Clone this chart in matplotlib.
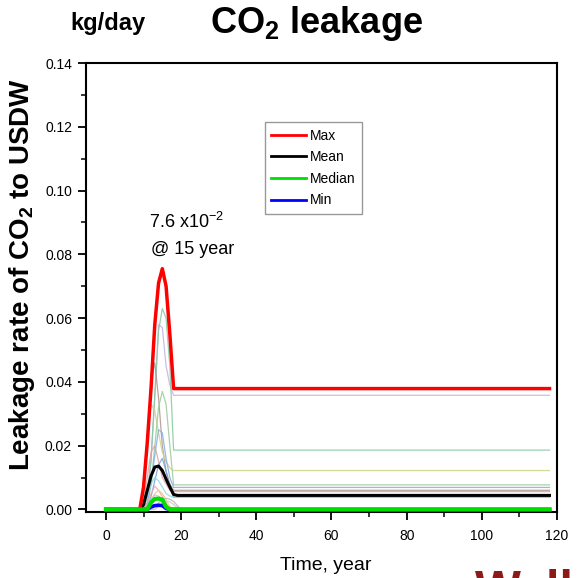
import numpy as np
import matplotlib.pyplot as plt
from matplotlib.ticker import MultipleLocator

plt.rcParams['font.family'] = ['Liberation Sans', 'DejaVu Sans']
plt.rcParams['mathtext.fontset'] = 'custom'
plt.rcParams['mathtext.rm'] = 'Liberation Sans'
plt.rcParams['mathtext.bf'] = 'Liberation Sans:bold'
plt.rcParams['mathtext.default'] = 'regular'

# time grid (years) shared by all realizations
years = [0, 9, 10, 11, 12, 13, 14, 15, 16, 17, 18, 19, 20, 118]

# summary curves, kg/day
max_rate = [0, 0, 0.007, 0.021, 0.038, 0.058, 0.071, 0.0755, 0.070, 0.055, 0.0379, 0.0379, 0.0379, 0.0379]
mean_rate = [0, 0, 0.0015, 0.006, 0.0105, 0.0133, 0.0136, 0.0122, 0.0095, 0.0070, 0.0047, 0.0044, 0.0044, 0.0044]
median_rate = [0, 0, 0, 0, 0.0022, 0.0033, 0.0034, 0.0031, 0.0008, 0, 0, 0, 0, 0]
min_rate = [0, 0, 0, 0, 0.0008, 0.0012, 0.0013, 0.0012, 0.0003, 0, 0, 0, 0, 0]

# individual realizations
runs = [
    [0, 0, 0, 0.004, 0.015, 0.035, 0.058, 0.057, 0.045, 0.039, 0.0358, 0.0358, 0.0358, 0.0358],
    [0, 0, 0, 0.004, 0.016, 0.036, 0.056, 0.063, 0.060, 0.045, 0.0186, 0.0186, 0.0186, 0.0186],
    [0, 0, 0.004, 0.020, 0.040, 0.046, 0.035, 0.020, 0.012, 0.008, 0.0060, 0.0060, 0.0060, 0.0060],
    [0, 0, 0.005, 0.020, 0.033, 0.031, 0.024, 0.018, 0.015, 0.013, 0.0122, 0.0122, 0.0122, 0.0122],
    [0, 0, 0, 0.002, 0.008, 0.020, 0.032, 0.037, 0.033, 0.020, 0.0077, 0.0077, 0.0077, 0.0077],
    [0, 0, 0, 0.002, 0.008, 0.017, 0.025, 0.024, 0.016, 0.010, 0.0069, 0.0069, 0.0069, 0.0069],
    [0, 0, 0.002, 0.010, 0.018, 0.020, 0.015, 0.010, 0.008, 0.006, 0.0056, 0.0056, 0.0056, 0.0056],
    [0, 0, 0, 0.001, 0.004, 0.009, 0.014, 0.016, 0.012, 0.007, 0.0038, 0.0038, 0.0038, 0.0038],
    [0, 0, 0.001, 0.004, 0.008, 0.010, 0.009, 0.007, 0.005, 0.0042, 0.0038, 0.0038, 0.0038, 0.0038],
    [0, 0, 0, 0.002, 0.005, 0.0073, 0.006, 0.004, 0.002, 0.0005, 0, 0, 0, 0],
    [0, 0, 0, 0.001, 0.003, 0.005, 0.006, 0.005, 0.003, 0.001, 0, 0, 0, 0],
    [0, 0, 0, 0, 0, 0.0008, 0.002, 0.003, 0.0035, 0.0032, 0.0025, 0.0012, 0, 0],
    [0, 0, 0, 0, 0, 0, 0.001, 0.002, 0.0026, 0.0024, 0.0015, 0.0005, 0, 0],
    [0, 0, 0, 0.001, 0.003, 0.0045, 0.0042, 0.003, 0.0015, 0.0005, 0, 0, 0, 0],
]
run_colors = ['#c4b0e2', '#86c8a0', '#ad958c', '#cdd483', '#99cc99', '#86ace4',
              '#dca4a4', '#78a0e0', '#8adada', '#f2a6a6', '#f0c88a', '#b4b4b4',
              '#c8c8c8', '#e0b0d8']

fig = plt.figure(figsize=(5.78, 5.78), dpi=100)
ax = fig.add_axes([0.1488, 0.1142, 0.8149, 0.7768])

for r, c in zip(runs, run_colors):
    ax.plot(years, r, color=c, lw=0.9, alpha=0.85, zorder=2)

ax.plot(years, min_rate, color='#0000ff', lw=2.6, zorder=3, label='Min')
ax.plot(years, mean_rate, color='black', lw=2.2, zorder=5, label='Mean')
ax.plot(years, max_rate, color='#ff0000', lw=2.5, zorder=6, label='Max')
ax.plot(years, median_rate, color='#00dd00', lw=3.0, zorder=7, label='Median')

ax.set_xlim(-5.3, 120)
ax.set_ylim(-0.0008, 0.14)
ax.xaxis.set_major_locator(MultipleLocator(20))
ax.xaxis.set_minor_locator(MultipleLocator(10))
ax.yaxis.set_major_locator(MultipleLocator(0.02))
ax.yaxis.set_minor_locator(MultipleLocator(0.01))
ax.yaxis.set_major_formatter(plt.FormatStrFormatter('%.2f'))
ax.tick_params(which='major', direction='out', length=6, width=1.3, labelsize=10, pad=4)
ax.tick_params(axis='x', which='major', pad=6)
ax.tick_params(which='minor', direction='out', length=3.5, width=1.1)
for s in ax.spines.values():
    s.set_linewidth(1.5)

handles, labels = ax.get_legend_handles_labels()
order = [2, 1, 3, 0]
leg = ax.legend([handles[i] for i in order], [labels[i] for i in order],
                loc='upper left', bbox_to_anchor=(0.38, 0.868), fontsize=10,
                frameon=True, fancybox=False, edgecolor='#808080',
                handlelength=2.5, handletextpad=0.3, labelspacing=0.55,
                borderpad=0.45, borderaxespad=0)
leg.get_frame().set_linewidth(1.0)
for line in leg.get_lines():
    line.set_linewidth(2.0)

ax.text(11.4, 0.090, r'7.6 x10$^{-2}$', fontsize=13, va='center', ha='left')
ax.text(11.9, 0.0814, '@ 15 year', fontsize=13, va='center', ha='left')

fig.text(0.187, 0.960, 'kg/day', fontsize=17, fontweight='bold', ha='center', va='center')
fig.text(0.547, 0.960, r'CO$_2$ leakage', fontsize=26, fontweight='bold', ha='center', va='center')
fig.text(0.038, 0.525, r'Leakage rate of CO$_2$ to USDW', fontsize=20, fontweight='bold',
         rotation=90, ha='center', va='center')
fig.text(0.563, 0.022, 'Time, year', fontsize=14, ha='center', va='center')

# footer logo text, cut by the lower edge
fig.text(0.822, -0.045, 'Well', fontsize=35, fontweight='bold', color='#8b1a1a',
         ha='left', va='baseline')

fig.savefig('out.png', dpi=100)
